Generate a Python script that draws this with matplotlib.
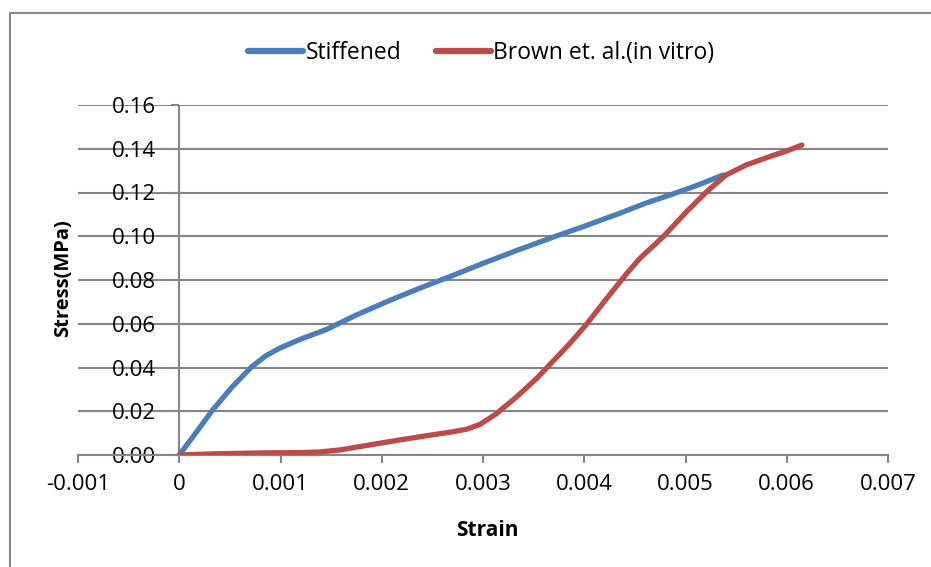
import matplotlib
matplotlib.use("Agg")
import matplotlib.pyplot as plt
from matplotlib.patches import Rectangle

plt.rcParams['font.family'] = ['Open Sans', 'DejaVu Sans']

# Data
stiff_strain = [0.0, 0.00017, 0.00033, 0.00052, 0.00071, 0.00085, 0.00099, 0.00120,
                0.00145, 0.00175, 0.00208, 0.00240, 0.00267, 0.00300, 0.00335,
                0.00370, 0.00399, 0.00435, 0.00460, 0.00485, 0.00510, 0.00537]
stiff_stress = [0.0, 0.0105, 0.0206, 0.0310, 0.0401, 0.0452, 0.0488, 0.0530,
                0.0573, 0.0640, 0.0707, 0.0767, 0.0815, 0.0876, 0.0938,
                0.0997, 0.1044, 0.1105, 0.1150, 0.1189, 0.1230, 0.1280]

brown_strain = [0.0, 0.00040, 0.00089, 0.00120, 0.00139, 0.00160, 0.00188, 0.00218,
                0.00251, 0.00270, 0.00284, 0.00297, 0.00313, 0.00333, 0.00353,
                0.00369, 0.00385, 0.00402, 0.00420, 0.00442, 0.00455, 0.00478,
                0.00501, 0.00521, 0.00540, 0.00560, 0.00583, 0.00600, 0.00615]
brown_stress = [0.0, 0.0006, 0.0010, 0.0011, 0.0014, 0.0024, 0.0046, 0.0069,
                0.0093, 0.0106, 0.0118, 0.0140, 0.0188, 0.0265, 0.0350,
                0.0428, 0.0506, 0.0596, 0.0703, 0.0830, 0.0899, 0.0998,
                0.1112, 0.1204, 0.1280, 0.1326, 0.1364, 0.1390, 0.1417]

series_names = ['Stiffened', 'Brown et. al.(in vitro)']
x_ticks = [-0.001, 0, 0.001, 0.002, 0.003, 0.004, 0.005, 0.006, 0.007]
x_tick_labels = ['-0.001', '0', '0.001', '0.002', '0.003', '0.004', '0.005', '0.006', '0.007']
y_ticks = [0.00, 0.02, 0.04, 0.06, 0.08, 0.10, 0.12, 0.14, 0.16]
y_tick_labels = ['0.00', '0.02', '0.04', '0.06', '0.08', '0.10', '0.12', '0.14', '0.16']

W, H = 931, 567
fig = plt.figure(figsize=(W / 100, H / 100), dpi=100)
ax = fig.add_axes([78 / W, 1 - 455 / H, (888 - 78) / W, (455 - 105) / H])

grid_c = '#868686'
blue = '#4A7EBB'
red = '#BE4B48'

ax.plot(stiff_strain, stiff_stress, color=blue, lw=3.8, solid_capstyle='round',
        solid_joinstyle='round', label=series_names[0], zorder=3)
ax.plot(brown_strain, brown_stress, color=red, lw=3.8, solid_capstyle='round',
        solid_joinstyle='round', label=series_names[1], zorder=3)

ax.set_xlim(-0.001, 0.007)
ax.set_ylim(0, 0.16)
ax.set_xticks(x_ticks)
ax.set_xticklabels(x_tick_labels)
ax.set_yticks(y_ticks)
ax.set_yticklabels(y_tick_labels)

for s in ['top', 'right']:
    ax.spines[s].set_visible(False)
ax.spines['left'].set_position(('data', 0))
ax.spines['left'].set_color(grid_c)
ax.spines['bottom'].set_color(grid_c)
ax.spines['left'].set_linewidth(1.5)
ax.spines['bottom'].set_linewidth(1.5)
ax.spines['left'].set_capstyle('butt')
ax.spines['left'].set_zorder(2.5)

ax.yaxis.grid(True, color=grid_c, lw=1.5, zorder=0)
ax.set_axisbelow(True)
ax.tick_params(axis='x', direction='out', length=6, width=1.5, color=grid_c,
               labelsize=16, pad=8)
ax.tick_params(axis='y', direction='out', length=6, width=1.5, color=grid_c,
               labelsize=16, pad=11)
for lab in ax.get_yticklabels():
    lab.set_zorder(4)

fig.text(63 / W, 1 - 278 / H, 'Stress(MPa)', rotation=90, ha='center', va='center',
         fontsize=14.5, fontweight='bold')
fig.text(487 / W, 1 - 530 / H, 'Strain', ha='center', va='center',
         fontsize=15, fontweight='bold')

leg = fig.legend(loc='center', bbox_to_anchor=(481 / W, 1 - 53 / H), ncol=2,
                 frameon=False, fontsize=16.5, handlelength=2.4, handletextpad=0.1,
                 columnspacing=1.5)
for line in leg.get_lines():
    line.set_linewidth(4.5)

fig.patches.append(Rectangle((10 / W, -0.1), 1.2, 1 - 13 / H + 0.1,
                             transform=fig.transFigure, fill=False,
                             edgecolor='#8c8c8c', lw=1.5))

fig.savefig('out.png', dpi=100)
